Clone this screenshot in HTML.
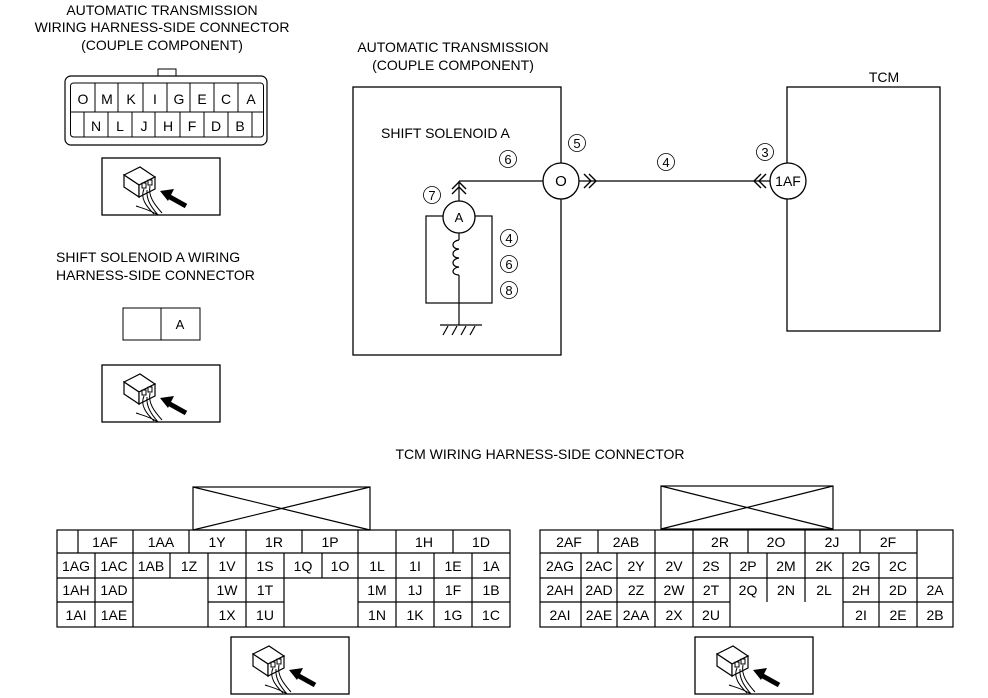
<!DOCTYPE html>
<html><head><meta charset="utf-8"><style>
html,body{margin:0;padding:0;background:#fff}
svg{display:block}
text{font-family:"Liberation Sans",Arial,sans-serif;font-size:13px;fill:#000}
.c{text-anchor:middle}
.t{font-size:14px}
</style></head><body>
<svg width="988" height="698" viewBox="0 0 988 698" xmlns="http://www.w3.org/2000/svg">
<defs>
<g id="icon">
<rect x="0" y="0" width="118" height="57" fill="#fff" stroke="#000" stroke-width="1.3"/>
<polygon points="22,17 38,9 53,19 37,27" fill="#fff" stroke="#000" stroke-width="1.2"/>
<polygon points="22,17 37,27 37,39 22,29" fill="#fff" stroke="#000" stroke-width="1.2"/>
<polygon points="37,27 53,19 53,31 37,39" fill="#fff" stroke="#000" stroke-width="1.2"/>
<rect x="40" y="25" width="4" height="5" fill="none" stroke="#000"/>
<rect x="46" y="22" width="4" height="5" fill="none" stroke="#000"/>
<path d="M42,31 C38,40 44,48 52,56 M48,28 C46,38 52,46 60,55 M45,32 C44,42 50,50 56,57 M34,48 C40,50 48,52 56,57" fill="none" stroke="#000" stroke-width="1"/>
<line x1="84" y1="48" x2="66" y2="38" stroke="#000" stroke-width="5"/>
<polygon points="58,33 72,31 66,43" fill="#000"/>
</g>
<circle id="cc" cx="0" cy="0" r="8.5" fill="none" stroke="#000" stroke-width="0.8"/>
</defs>

<text class="c t" x="162" y="15">AUTOMATIC TRANSMISSION</text>
<text class="c t" x="162" y="32">WIRING HARNESS-SIDE CONNECTOR</text>
<text class="c t" x="162" y="50">(COUPLE COMPONENT)</text>

<rect x="158" y="69" width="18" height="8" fill="#fff" stroke="#000"/>
<rect x="65" y="76" width="202" height="69" rx="6" fill="#fff" stroke="#000" stroke-width="1.2"/>
<rect x="70.5" y="83" width="193" height="54" rx="3" fill="none" stroke="#000"/>
<line x1="71" y1="112" x2="263" y2="112" stroke="#000"/>
<g stroke="#000">
<line x1="95" y1="83" x2="95" y2="112"/><line x1="118" y1="83" x2="118" y2="112"/><line x1="143" y1="83" x2="143" y2="112"/><line x1="167" y1="83" x2="167" y2="112"/><line x1="190" y1="83" x2="190" y2="112"/><line x1="214" y1="83" x2="214" y2="112"/><line x1="238" y1="83" x2="238" y2="112"/>
<line x1="84" y1="112" x2="84" y2="137"/><line x1="108" y1="112" x2="108" y2="137"/><line x1="132" y1="112" x2="132" y2="137"/><line x1="155" y1="112" x2="155" y2="137"/><line x1="180" y1="112" x2="180" y2="137"/><line x1="204" y1="112" x2="204" y2="137"/><line x1="228" y1="112" x2="228" y2="137"/><line x1="252" y1="112" x2="252" y2="137"/>
</g>
<g class="t">
<text class="c t" x="83" y="104">O</text><text class="c t" x="107" y="104">M</text><text class="c t" x="131" y="104">K</text><text class="c t" x="155" y="104">I</text><text class="c t" x="179" y="104">G</text><text class="c t" x="202" y="104">E</text><text class="c t" x="226" y="104">C</text><text class="c t" x="251" y="104">A</text>
<text class="c t" x="96" y="131">N</text><text class="c t" x="120" y="131">L</text><text class="c t" x="144" y="131">J</text><text class="c t" x="168" y="131">H</text><text class="c t" x="192" y="131">F</text><text class="c t" x="216" y="131">D</text><text class="c t" x="240" y="131">B</text>
</g>
<use href="#icon" x="102" y="158"/>

<text class="t" x="56" y="262">SHIFT SOLENOID A WIRING</text>
<text class="t" x="56" y="280">HARNESS-SIDE CONNECTOR</text>
<rect x="123" y="308" width="77" height="32" fill="#fff" stroke="#000"/>
<line x1="161" y1="308" x2="161" y2="340" stroke="#000"/>
<text class="c" x="180" y="329">A</text>
<use href="#icon" x="102" y="365"/>

<text class="c t" x="453" y="52">AUTOMATIC TRANSMISSION</text>
<text class="c t" x="453" y="70">(COUPLE COMPONENT)</text>
<rect x="353" y="87" width="208" height="268" fill="none" stroke="#000" stroke-width="1.3"/>
<text class="t" x="381" y="138">SHIFT SOLENOID A</text>

<use href="#cc" x="508" y="159"/><text class="c" x="508" y="164">6</text>
<use href="#cc" x="577" y="143"/><text class="c" x="577" y="148">5</text>
<use href="#cc" x="666" y="162"/><text class="c" x="666" y="167">4</text>
<use href="#cc" x="765" y="152"/><text class="c" x="765" y="157">3</text>
<use href="#cc" x="432" y="195"/><text class="c" x="432" y="200">7</text>
<use href="#cc" x="509" y="238"/><text class="c" x="509" y="243">4</text>
<use href="#cc" x="509" y="264"/><text class="c" x="509" y="269">6</text>
<use href="#cc" x="509" y="290"/><text class="c" x="509" y="295">8</text>

<g stroke="#000" fill="none" stroke-width="1.2">
<line x1="459" y1="181" x2="543" y2="181"/>
<line x1="459" y1="181" x2="459" y2="201"/>
<polyline points="452,189 459,182 466,189" stroke-width="1.4"/>
<polyline points="452,194 459,187 466,194" stroke-width="1.4"/>
<rect x="426" y="216" width="66" height="87"/>
<line x1="459" y1="233" x2="459" y2="240"/>
<path d="M459,240 c-8,1 -8,9 0,9 c-8,1 -8,9 0,9 c-8,1 -8,9 0,9 c-8,1 -8,8 0,8"/>
<line x1="459" y1="275" x2="459" y2="325"/>
<line x1="440" y1="325" x2="482" y2="325"/>
<line x1="448" y1="326" x2="443" y2="335"/><line x1="457" y1="326" x2="452" y2="335"/><line x1="466" y1="326" x2="461" y2="335"/><line x1="475" y1="326" x2="470" y2="335"/>
<line x1="579" y1="181" x2="770" y2="181"/>
<polyline points="584,174 591,181 584,188" stroke-width="1.4"/>
<polyline points="589,174 596,181 589,188" stroke-width="1.4"/>
<polyline points="761,174 754,181 761,188" stroke-width="1.4"/>
<polyline points="766,174 759,181 766,188" stroke-width="1.4"/>
<rect x="787" y="87" width="153" height="244" stroke-width="1.3"/>
</g>
<circle cx="459" cy="217" r="16" fill="#fff" stroke="#000" stroke-width="1.3"/>
<text class="c" x="459" y="222">A</text>
<circle cx="561" cy="181" r="18" fill="#fff" stroke="#000" stroke-width="1.3"/>
<text class="c" x="561" y="186" style="font-size:15px">O</text>
<circle cx="788" cy="181" r="18" fill="#fff" stroke="#000" stroke-width="1.3"/>
<text class="c" x="788" y="186" style="font-size:14px">1AF</text>
<text class="c t" x="884" y="82">TCM</text>

<text class="c t" x="540" y="459">TCM WIRING HARNESS-SIDE CONNECTOR</text>

<g stroke="#000" fill="none" stroke-width="1.2">
<rect x="193" y="487" width="177" height="43"/>
<line x1="193" y1="487" x2="370" y2="530"/><line x1="370" y1="487" x2="193" y2="530"/>
<rect x="57" y="530" width="453" height="97"/>
<line x1="57" y1="553" x2="510" y2="553"/>
<line x1="57" y1="578" x2="133" y2="578"/><line x1="208" y1="578" x2="284" y2="578"/><line x1="358" y1="578" x2="510" y2="578"/>
<line x1="57" y1="602" x2="133" y2="602"/><line x1="208" y1="602" x2="284" y2="602"/><line x1="358" y1="602" x2="510" y2="602"/>
<line x1="78" y1="530" x2="78" y2="553"/><line x1="133" y1="530" x2="133" y2="553"/><line x1="189" y1="530" x2="189" y2="553"/><line x1="246" y1="530" x2="246" y2="553"/><line x1="302" y1="530" x2="302" y2="553"/><line x1="358" y1="530" x2="358" y2="553"/><line x1="396" y1="530" x2="396" y2="553"/><line x1="453" y1="530" x2="453" y2="553"/>
<line x1="95" y1="553" x2="95" y2="627"/><line x1="133" y1="553" x2="133" y2="627"/><line x1="170" y1="553" x2="170" y2="578"/><line x1="208" y1="553" x2="208" y2="627"/><line x1="246" y1="553" x2="246" y2="627"/><line x1="284" y1="553" x2="284" y2="627"/><line x1="322" y1="553" x2="322" y2="578"/><line x1="358" y1="553" x2="358" y2="627"/><line x1="396" y1="553" x2="396" y2="627"/><line x1="434" y1="553" x2="434" y2="627"/><line x1="472" y1="553" x2="472" y2="627"/>
<line x1="133" y1="578" x2="208" y2="578"/><line x1="284" y1="578" x2="358" y2="578"/>
</g>
<g>
<text class="c t" x="105" y="547">1AF</text><text class="c t" x="161" y="547">1AA</text><text class="c t" x="217" y="547">1Y</text><text class="c t" x="274" y="547">1R</text><text class="c t" x="330" y="547">1P</text><text class="c t" x="424" y="547">1H</text><text class="c t" x="481" y="547">1D</text>
<text class="c t" x="76" y="571">1AG</text><text class="c t" x="114" y="571">1AC</text><text class="c t" x="151" y="571">1AB</text><text class="c t" x="189" y="571">1Z</text><text class="c t" x="227" y="571">1V</text><text class="c t" x="265" y="571">1S</text><text class="c t" x="303" y="571">1Q</text><text class="c t" x="340" y="571">1O</text><text class="c t" x="377" y="571">1L</text><text class="c t" x="415" y="571">1I</text><text class="c t" x="453" y="571">1E</text><text class="c t" x="491" y="571">1A</text>
<text class="c t" x="76" y="595">1AH</text><text class="c t" x="114" y="595">1AD</text><text class="c t" x="227" y="595">1W</text><text class="c t" x="265" y="595">1T</text><text class="c t" x="377" y="595">1M</text><text class="c t" x="415" y="595">1J</text><text class="c t" x="453" y="595">1F</text><text class="c t" x="491" y="595">1B</text>
<text class="c t" x="76" y="620">1AI</text><text class="c t" x="114" y="620">1AE</text><text class="c t" x="227" y="620">1X</text><text class="c t" x="265" y="620">1U</text><text class="c t" x="377" y="620">1N</text><text class="c t" x="415" y="620">1K</text><text class="c t" x="453" y="620">1G</text><text class="c t" x="491" y="620">1C</text>
</g>
<use href="#icon" x="231" y="637"/>

<g stroke="#000" fill="none" stroke-width="1.2">
<rect x="661" y="486" width="172" height="43"/>
<line x1="661" y1="486" x2="833" y2="529"/><line x1="833" y1="486" x2="661" y2="529"/>
<rect x="540" y="530" width="413" height="97"/>
<line x1="540" y1="553" x2="917" y2="553"/>
<line x1="540" y1="578" x2="953" y2="578"/>
<line x1="540" y1="602" x2="730" y2="602"/><line x1="843" y1="602" x2="953" y2="602"/>
<line x1="598" y1="530" x2="598" y2="553"/><line x1="655" y1="530" x2="655" y2="553"/><line x1="693" y1="530" x2="693" y2="553"/><line x1="748" y1="530" x2="748" y2="553"/><line x1="805" y1="530" x2="805" y2="553"/><line x1="860" y1="530" x2="860" y2="553"/><line x1="917" y1="530" x2="917" y2="627"/>
<line x1="581" y1="553" x2="581" y2="627"/><line x1="617" y1="553" x2="617" y2="627"/><line x1="655" y1="553" x2="655" y2="627"/><line x1="693" y1="553" x2="693" y2="627"/><line x1="730" y1="553" x2="730" y2="627"/><line x1="767" y1="553" x2="767" y2="602"/><line x1="805" y1="553" x2="805" y2="602"/><line x1="843" y1="553" x2="843" y2="627"/><line x1="879" y1="553" x2="879" y2="627"/>
</g>
<g>
<text class="c t" x="569" y="547">2AF</text><text class="c t" x="626" y="547">2AB</text><text class="c t" x="720" y="547">2R</text><text class="c t" x="776" y="547">2O</text><text class="c t" x="832" y="547">2J</text><text class="c t" x="888" y="547">2F</text>
<text class="c t" x="560" y="571">2AG</text><text class="c t" x="599" y="571">2AC</text><text class="c t" x="636" y="571">2Y</text><text class="c t" x="674" y="571">2V</text><text class="c t" x="711" y="571">2S</text><text class="c t" x="748" y="571">2P</text><text class="c t" x="786" y="571">2M</text><text class="c t" x="824" y="571">2K</text><text class="c t" x="861" y="571">2G</text><text class="c t" x="898" y="571">2C</text>
<text class="c t" x="560" y="595">2AH</text><text class="c t" x="599" y="595">2AD</text><text class="c t" x="636" y="595">2Z</text><text class="c t" x="674" y="595">2W</text><text class="c t" x="711" y="595">2T</text><text class="c t" x="748" y="595">2Q</text><text class="c t" x="786" y="595">2N</text><text class="c t" x="824" y="595">2L</text><text class="c t" x="861" y="595">2H</text><text class="c t" x="898" y="595">2D</text><text class="c t" x="935" y="595">2A</text>
<text class="c t" x="560" y="620">2AI</text><text class="c t" x="599" y="620">2AE</text><text class="c t" x="636" y="620">2AA</text><text class="c t" x="674" y="620">2X</text><text class="c t" x="711" y="620">2U</text><text class="c t" x="861" y="620">2I</text><text class="c t" x="898" y="620">2E</text><text class="c t" x="935" y="620">2B</text>
</g>
<use href="#icon" x="695" y="637"/>
</svg>
</body></html>
